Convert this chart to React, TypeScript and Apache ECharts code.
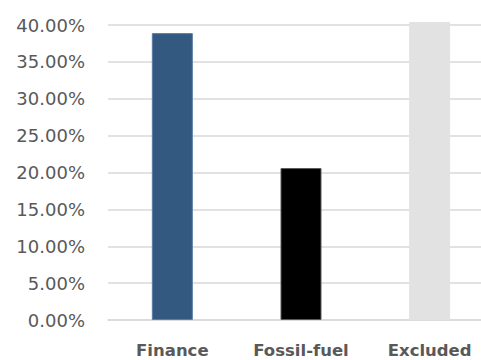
import React, { useEffect, useRef } from "react";
import * as echarts from "echarts";

const categories = ["Finance", "Fossil-fuel", "Excluded"];
const shares = [38.9, 20.6, 40.4];
const barColors = ["#345980", "#000000", "#e2e2e2"];
const barBorders = ["#5b7ea3", "#5a5a5a", "#e2e2e2"];
const yTicks = [0, 5, 10, 15, 20, 25, 30, 35, 40];

export default function App() {
  const ref = useRef<HTMLDivElement>(null);

  useEffect(() => {
    if (!ref.current) return;
    const chart = echarts.init(ref.current, null, { renderer: "svg" });
    chart.setOption({
      animation: false,
      backgroundColor: "#ffffff",
      grid: { left: 108, right: 6, top: 25, bottom: 40 },
      xAxis: {
        type: "category",
        data: categories,
        axisLine: { show: true, lineStyle: { color: "#d9d9d9", width: 1.5 } },
        axisTick: { show: false },
        axisLabel: {
          color: "#595959",
          fontFamily: "DejaVu Sans",
          fontWeight: "bold",
          fontSize: 16.5,
          margin: 22,
        },
      },
      yAxis: {
        type: "value",
        min: yTicks[0],
        max: yTicks[yTicks.length - 1],
        interval: 5,
        axisLine: { show: false },
        axisTick: { show: false },
        splitLine: { lineStyle: { color: "#d9d9d9", width: 1.5 } },
        axisLabel: {
          color: "#595959",
          fontFamily: "DejaVu Sans",
          fontSize: 18,
          margin: 23,
          formatter: (v: number) => v.toFixed(2) + "%",
        },
      },
      series: [
        {
          type: "bar",
          clip: false,
          barWidth: 41,
          data: shares.map((v, i) => ({
            value: v,
            itemStyle: {
              color: barColors[i],
              borderColor: barBorders[i],
              borderWidth: 1,
            },
          })),
        },
      ],
    });
    return () => chart.dispose();
  }, []);

  return (
    <div
      ref={ref}
      style={{ position: "fixed", left: 0, top: 0, width: 500, height: 360 }}
    />
  );
}
